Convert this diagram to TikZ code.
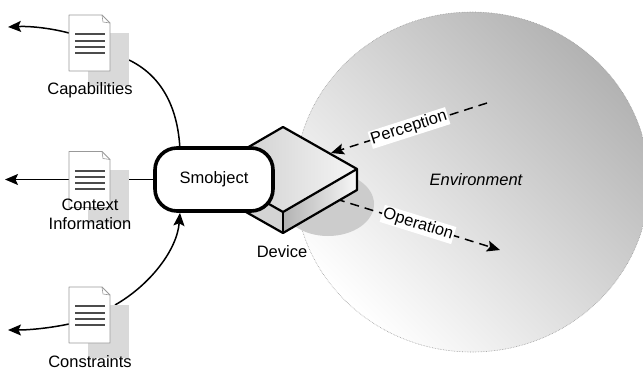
\documentclass[tikz,border=0pt]{standalone}
\usepackage{fontspec}
\setmainfont{Liberation Sans}
\usetikzlibrary{arrows.meta,calc}

\pgfdeclarelayer{back}
\pgfdeclarelayer{links}
\pgfsetlayers{back,links,main}

\newcommand\figfont{\fontsize{16.5}{19}\selectfont}

\tikzset{
  lbl/.style={font=\figfont, inner sep=0pt, align=center, anchor=base},
  link/.style={line width=1.5pt, black},
  tip/.style={-{Stealth[length=13pt,width=11pt,inset=2.5pt]}},
  flow/.style={link, dash pattern=on 9pt off 6pt},
  tag/.style={font=\figfont, fill=white, inner sep=1.2pt},
  pagebox/.style={minimum width=41pt, minimum height=56pt, inner sep=0pt, outer sep=0pt},
  pageedge/.style={draw=black!40, fill=white, line width=0.8pt, line join=round},
  pageshadow/.style={fill=black!15},
  pageline/.style={draw=black!70, line width=2.2pt},
  slab/.style={draw=black, line width=2.2pt, line join=round},
  smobj/.style={draw=black, fill=white, line width=3.6pt, rounded corners=22pt,
    minimum width=118pt, minimum height=63pt, inner sep=0pt, font=\figfont},
}

% document icon: page with folded corner, text lines and a grey backing sheet
\newcommand\docicon[2]{%
  \node[pagebox] (#1) at #2 {};
  \fill[pageshadow] ($(#1.north west)+(19,18)$) rectangle ($(#1.south east)+(19,15)$);
  \filldraw[pageedge] (#1.north west) -- ($(#1.north east)+(-8,0)$) -- ($(#1.north east)+(0,8)$)
    -- (#1.south east) -- (#1.south west) -- cycle;
  \draw[black!40, line width=0.6pt, line join=round] ($(#1.north east)+(-8,0)$) -- ($(#1.north east)+(-7,7)$) -- ($(#1.north east)+(0,8)$);
  \foreach \k in {19.3,25.7,31.7,37.7}
    \draw[pageline] ($(#1.north west)+(6,\k)$) -- ($(#1.north east)+(-5,\k)$);
}

\begin{document}
\begin{tikzpicture}[x=1pt,y=-1pt]
\useasboundingbox (0,0) rectangle (643,372);

% environment disc, darker towards the upper right (upward y inside this scope)
\begin{pgfonlayer}{back}
  \begin{scope}[y=1pt]
    \shade[top color=black!30, middle color=black!9, bottom color=white, shading angle=-45]
      (472,-182) ellipse [x radius=177, y radius=170];
    \draw[black!40, densely dotted, line width=0.6pt]
      (472,-182) ellipse [x radius=177, y radius=170];
  \end{scope}
\end{pgfonlayer}

% device corners
\coordinate (dT) at (283,127);
\coordinate (dR) at (357,169);
\coordinate (dF) at (283,212);
\coordinate (dL) at (209,170);
\coordinate (dRb) at (357,190);
\coordinate (dFb) at (283,233);
\coordinate (dLb) at (209,191);

% device shadow
\fill[black!20] (328,204) ellipse [x radius=46, y radius=32];

% operation flow (starts under the device)
\coordinate (osrc) at (336,199);
\coordinate (otip) at (500,250);
\draw[flow, tip] (osrc) -- node[tag, sloped] {Operation} (otip);

% device slab
\fill[left color=black!22, right color=black!4] (dT) -- (dR) -- (dF) -- (dL) -- cycle;
\fill[black!17] (dL) -- (dF) -- (dFb) -- (dLb) -- cycle;
\fill[left color=black!30, right color=black!3] (dF) -- (dR) -- (dRb) -- (dFb) -- cycle;
\draw[slab] (dT) -- (dR) -- (dRb) -- (dFb) -- (dLb) -- (dL) -- cycle;
\draw[slab] (dL) -- (dF) -- (dR);
\draw[slab] (dF) -- (dFb);

% perception flow
\coordinate (pfar) at (487,103);
\coordinate (ptip) at (331,153);
\draw[flow, tip] (pfar) -- node[tag, sloped] {Perception} (ptip);

% smart object
\node[smobj] (smob) at (214,179.5) {Smobject};

% documents
\docicon{cap}{(89.5,43)}
\docicon{ctx}{(89.5,179.5)}
\docicon{cns}{(89.5,315)}

% labels
\node[lbl] (caplbl) at (90,94.3) {Capabilities};
\node[lbl] (ctxlbl) at (90,229) {Context\\Information};
\node[lbl] (cnslbl) at (90,367) {Constraints};
\node[lbl] (devlbl) at (282,257) {Device};
\node[lbl, font=\figfont\itshape] (envlbl) at (476,185) {Environment};

% connectors
\begin{pgfonlayer}{links}
  \coordinate (capout) at (8,27);
  \coordinate (ctxout) at (5,179.5);
  \coordinate (cnsout) at (8,330);
  \draw[link, tip] ($(cap.north west)+(0,18)$) .. controls (50,28) and (30,26) .. (capout);
  \draw[link, tip] (ctx.west) -- (ctxout);
  \draw[link, tip] ($(cns.north west)+(0,37)$) .. controls (50,328) and (30,330) .. (cnsout);
  \draw[link] ($(cap.north east)+(19,45)$) .. controls (160,75) and (178,105) .. ($(smob.north)+(-34,4)$);
  \draw[link] (smob.west) -- (ctx.east);
  \draw[link, tip] ($(cns.north east)+(5,18)$) .. controls (150,285) and (177,250) .. ($(smob.south)+(-34,0)$);
\end{pgfonlayer}
\end{tikzpicture}
\end{document}
